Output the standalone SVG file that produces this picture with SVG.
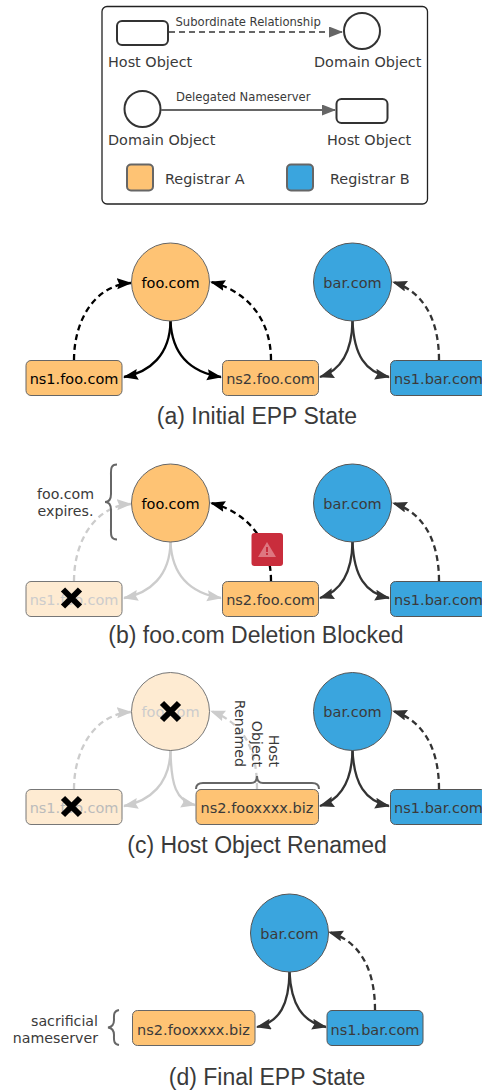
<svg xmlns="http://www.w3.org/2000/svg" width="482" height="1090" viewBox="0 0 482 1090">
<defs>
<marker id="ab" markerUnits="userSpaceOnUse" markerWidth="18" markerHeight="14" refX="14" refY="5.500" orient="auto"><path d="M0 0L15 5.500L0 11L2 5.500Z" fill="#000"/></marker>
<marker id="ad" markerUnits="userSpaceOnUse" markerWidth="18" markerHeight="14" refX="14" refY="5.500" orient="auto"><path d="M0 0L15 5.500L0 11L2 5.500Z" fill="#333"/></marker>
<marker id="al" markerUnits="userSpaceOnUse" markerWidth="18" markerHeight="14" refX="14" refY="5.500" orient="auto"><path d="M0 0L15 5.500L0 11L2 5.500Z" fill="#ccc"/></marker>
<marker id="ag" markerUnits="userSpaceOnUse" markerWidth="18" markerHeight="14" refX="13" refY="5.500" orient="auto"><path d="M0 0L14 5.500L0 11L0 5.500Z" fill="#666"/></marker>
</defs>
<style>
text{font-family:"DejaVu Sans",sans-serif;fill:#3a3a3a}
.cap{font-family:"Liberation Sans",Arial,sans-serif;font-size:23px;text-anchor:middle;fill:#3a3a3a}
.lg{font-size:14.4px}
.sm{font-size:11.600px}
.nt{font-size:14.5px;text-anchor:middle}
.k{fill:#000}
.fade{fill:#ccc}
.note{font-size:14.200px}
.a{fill:#fec374;stroke:#666;stroke-width:1}
.b{fill:#3aa5de;stroke:#555;stroke-width:1}
.f{fill:#feebd2;stroke:#777;stroke-width:1}
.e{fill:#fff;stroke:#333;stroke-width:2}
.c{fill:none;stroke-width:2.300}
.cb{stroke:#000;marker-end:url(#ab)}
.cd{stroke:#333;marker-end:url(#ad)}
.cl{stroke:#ccc;marker-end:url(#al)}
.dash{stroke-dasharray:6 4}
.br{fill:none;stroke:#666;stroke-width:2}
.x{stroke:#000;stroke-width:6;fill:none}
</style>

<g id="legend">
<rect x="102" y="6.500" width="325.500" height="197.500" rx="5" fill="#fff" stroke="#222" stroke-width="1.300"/>
<rect class="e" x="117" y="21" width="51" height="24" rx="5"/>
<circle class="e" cx="362" cy="31" r="18"/>
<path d="M169 32H342" stroke="#666" stroke-width="2" stroke-dasharray="6 4" fill="none" marker-end="url(#ag)"/>
<text class="sm" x="175.500" y="26">Subordinate Relationship</text>
<text class="lg" x="108" y="67">Host Object</text>
<text class="lg" x="314" y="67">Domain Object</text>
<circle class="e" cx="142.500" cy="109" r="18"/>
<rect class="e" x="336.500" y="99" width="51" height="24" rx="5"/>
<path d="M161 110H335" stroke="#666" stroke-width="2" fill="none" marker-end="url(#ag)"/>
<text class="sm" x="176" y="101">Delegated Nameserver</text>
<text class="lg" x="108" y="145">Domain Object</text>
<text class="lg" x="327" y="145">Host Object</text>
<rect x="127" y="164.500" width="26" height="26" rx="4" fill="#fec374" stroke="#666" stroke-width="2"/>
<text class="lg" x="165" y="184">Registrar A</text>
<rect x="287" y="164.500" width="26" height="26" rx="4" fill="#3aa5de" stroke="#666" stroke-width="2"/>
<text class="lg" x="330" y="184">Registrar B</text>
</g>

<g id="connectors">
<!-- a -->
<path class="c cb dash" d="M74 360C74 320 95 285 131 283"/>
<path class="c cb dash" d="M271 360C271 322 250 292 211 282"/>
<path class="c cb" d="M170.500 321C170 355 150 372 124 377"/>
<path class="c cb" d="M170.500 321C172 355 190 372 221 377"/>
<path class="c cd" d="M352.500 321C352 350 342 370 320 377"/>
<path class="c cd" d="M352.500 321C354 355 365 372 389 377"/>
<path class="c cd dash" d="M439 360C439 322 425 292 393 282"/>
<!-- b -->
<path class="c cl dash" d="M74 581C74 541 95 506 131 504"/>
<path class="c cb dash" d="M271 581C271 543 250 513 211 503"/>
<path class="c cl" d="M170.500 542C170 576 150 593 124 598"/>
<path class="c cl" d="M170.500 542C172 576 190 593 221 598"/>
<path class="c cd" d="M352.500 542C352 571 342 591 320 598"/>
<path class="c cd" d="M352.500 542C354 576 365 593 389 598"/>
<path class="c cd dash" d="M439 581C439 543 425 513 393 503"/>
<!-- c -->
<path class="c cl dash" d="M74 789C74 749 95 714 131 712"/>
<path class="c cl dash" d="M257 789C257 750 245 724 211 711"/>
<path class="c cl" d="M170.500 750C170 784 150 801 124 806"/>
<path class="c cl" d="M170.500 750C171 785 176 801 195 805"/>
<path class="c cd" d="M352.500 750C352 779 342 799 320 806"/>
<path class="c cd" d="M352.500 750C354 784 365 801 389 806"/>
<path class="c cd dash" d="M439 789C439 751 425 721 393 711"/>
<!-- d -->
<path class="c cd" d="M289.500 972C289 1004 280 1022 257 1027"/>
<path class="c cd" d="M289.500 972C291 1004 302 1022 326 1027"/>
<path class="c cd dash" d="M375 1010C375 972 362 942 329 932"/>
</g>

<g id="a-foo"><circle class="a" cx="170.500" cy="282" r="39"/><text class="nt k" x="170.500" y="288">foo.com</text></g>
<g id="a-bar"><circle class="b" cx="352.500" cy="282" r="39"/><text class="nt" x="352.500" y="288">bar.com</text></g>
<g id="a-ns1foo"><rect class="a" x="26" y="360.500" width="96" height="35" rx="5"/><text class="nt k" x="74" y="384">ns1.foo.com</text></g>
<g id="a-ns2foo"><rect class="a" x="222.500" y="360.500" width="96" height="35" rx="5"/><text class="nt" x="270.500" y="384">ns2.foo.com</text></g>
<g id="a-ns1bar"><rect class="b" x="390.500" y="360.500" width="96" height="35" rx="5"/><text class="nt" x="438.500" y="384">ns1.bar.com</text></g>
<text class="cap" x="257" y="424">(a) Initial EPP State</text>

<g id="b-foo"><circle class="a" cx="170.500" cy="503" r="39"/><text class="nt k" x="170.500" y="509">foo.com</text></g>
<g id="b-bar"><circle class="b" cx="352.500" cy="503" r="39"/><text class="nt" x="352.500" y="509">bar.com</text></g>
<g id="b-ns1foo"><rect class="f" x="26" y="581.500" width="96" height="35" rx="5"/><text class="nt fade" x="74" y="605">ns1.foo.com</text><path class="x" d="M63 589.500L80 606.500M80 589.500L63 606.500"/></g>
<g id="b-ns2foo"><rect class="a" x="222.500" y="581.500" width="96" height="35" rx="5"/><text class="nt" x="270.500" y="605">ns2.foo.com</text></g>
<g id="b-ns1bar"><rect class="b" x="390.500" y="581.500" width="96" height="35" rx="5"/><text class="nt" x="438.500" y="605">ns1.bar.com</text></g>
<g id="b-warning"><rect x="251.500" y="533" width="31.500" height="33" rx="3" fill="#c92d3c"/><path d="M267 542L276 557H258Z" fill="#de7680"/><rect x="266" y="547" width="2" height="5" fill="#c92d3c"/><rect x="266" y="553" width="2" height="2" fill="#c92d3c"/></g>
<g id="b-note"><path class="br" d="M117 464.500C110 464.500 111 470 111 476V494C111 499 109 502 105 502C109 502 111 505 111 510V528C111 534 110 539.500 117 539.500"/><text class="note" x="65.500" y="499" text-anchor="middle">foo.com</text><text class="note" x="65.500" y="516" text-anchor="middle">expires.</text></g>
<text class="cap" x="256" y="643">(b) foo.com Deletion Blocked</text>

<g id="c-foo"><circle class="f" cx="170.500" cy="711.500" r="39"/><text class="nt fade" x="170.500" y="717">foo.com</text><path class="x" d="M162 703L179 720M179 703L162 720"/></g>
<g id="c-bar"><circle class="b" cx="352.500" cy="711.500" r="39"/><text class="nt" x="352.500" y="717">bar.com</text></g>
<g id="c-ns1foo"><rect class="f" x="26" y="789.500" width="96" height="35" rx="5"/><text class="nt fade" x="74" y="813" style="fill:#bbb">ns1.foo.com</text><path class="x" d="M63 798L80 815M80 798L63 815"/></g>
<g id="c-ns2"><rect class="a" x="196" y="789.500" width="122.500" height="35" rx="5"/><text class="nt" x="257" y="813">ns2.fooxxxx.biz</text></g>
<g id="c-ns1bar"><rect class="b" x="390.500" y="789.500" width="96" height="35" rx="5"/><text class="nt" x="438.500" y="813">ns1.bar.com</text></g>
<g id="c-note"><path class="br" d="M196 789C196 784 199 783 203 783H251C255 783 257 781 257 776C257 781 259 783 263 783H312C316 783 319 784 319 789"/>
<text class="note" transform="translate(269 767) rotate(90)" text-anchor="end">Host</text>
<text class="note" transform="translate(252 767) rotate(90)" text-anchor="end">Object</text>
<text class="note" transform="translate(235 767) rotate(90)" text-anchor="end">Renamed</text></g>
<text class="cap" x="257" y="853">(c) Host Object Renamed</text>

<g id="d-bar"><circle class="b" cx="289.500" cy="933" r="39"/><text class="nt" x="289.500" y="939">bar.com</text></g>
<g id="d-ns2"><rect class="a" x="132.500" y="1010.500" width="122.500" height="35" rx="5"/><text class="nt" x="193.500" y="1035">ns2.fooxxxx.biz</text></g>
<g id="d-ns1bar"><rect class="b" x="327" y="1010.500" width="96" height="35" rx="5"/><text class="nt" x="375" y="1035">ns1.bar.com</text></g>
<g id="d-note"><path class="br" d="M119 1010C113 1011 114 1016 114 1020C114 1024 112 1027 108 1027.500C112 1028 114 1031 114 1035C114 1039 113 1044 119 1045"/><text class="note" x="98" y="1026" text-anchor="end">sacrificial</text><text class="note" x="98" y="1043" text-anchor="end">nameserver</text></g>
<text class="cap" x="267" y="1085">(d) Final EPP State</text>
</svg>
